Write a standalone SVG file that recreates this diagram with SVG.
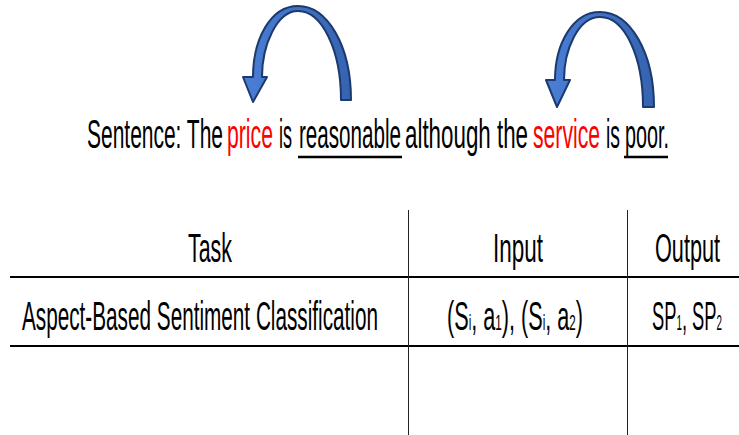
<svg xmlns="http://www.w3.org/2000/svg" width="739" height="435" viewBox="0 0 739 435">
<defs>
<linearGradient id="ag" x1="0" y1="0" x2="1" y2="0">
<stop offset="0" stop-color="#4a7fd6"/>
<stop offset="1" stop-color="#3563b0"/>
</linearGradient>
</defs>
<style>
.t{font-family:"Liberation Sans",Arial,sans-serif;font-size:41px;fill:#000}
.r{fill:#ff0000}
.arrow{fill:url(#ag);stroke:#1c3a6e;stroke-width:2;stroke-linejoin:round}
.hl{stroke:#000;stroke-width:2.2}
.vl{stroke:#222;stroke-width:1}
.ul{stroke:#000;stroke-width:2.5}
</style>
<rect width="739" height="435" fill="#fff"/>
<g id="arrow1">
<path class="arrow" d="M351,100 C351,45 327,6 298,6 C270,6 253,40 253,77 L243,77 L253,102 L267,77 L262,77 C262,45 277,11 298,11 C322,11 341,50 341,100 Z"/>
</g>
<g id="arrow2">
<path class="arrow" d="M654,107 C654,52 630,12 600,12 C572,12 555,45 555,80 L546,80 L557,107 L570,80 L564,80 C564,50 578,17 600,17 C625,17 643,57 643,107 Z"/>
</g>
<g id="sentence">
<text class="t" x="87" y="148" textLength="136" lengthAdjust="spacingAndGlyphs">Sentence: The</text>
<text class="t r" x="227" y="148" textLength="46" lengthAdjust="spacingAndGlyphs">price</text>
<text class="t" x="279" y="148" textLength="13" lengthAdjust="spacingAndGlyphs">is</text>
<text class="t" x="299" y="148" textLength="102" lengthAdjust="spacingAndGlyphs">reasonable</text>
<text class="t" x="405" y="148" textLength="123" lengthAdjust="spacingAndGlyphs">although the</text>
<text class="t r" x="533" y="148" textLength="67" lengthAdjust="spacingAndGlyphs">service</text>
<text class="t" x="606" y="148" textLength="14" lengthAdjust="spacingAndGlyphs">is</text>
<text class="t" x="625" y="148" textLength="44" lengthAdjust="spacingAndGlyphs">poor.</text>
<line class="ul" x1="298" y1="157" x2="402" y2="157"/>
<line class="ul" x1="624" y1="157" x2="668" y2="157"/>
</g>
<g id="table">
<line class="hl" x1="10" y1="277" x2="739" y2="277"/>
<line class="hl" x1="10" y1="346" x2="739" y2="346"/>
<line class="vl" x1="408.5" y1="210" x2="408.5" y2="435"/>
<line class="vl" x1="627.5" y1="210" x2="627.5" y2="435"/>
</g>
<g id="header">
<text class="t" x="188" y="262" textLength="44" lengthAdjust="spacingAndGlyphs">Task</text>
<text class="t" x="493" y="262" textLength="50" lengthAdjust="spacingAndGlyphs">Input</text>
<text class="t" x="655" y="262" textLength="65" lengthAdjust="spacingAndGlyphs">Output</text>
</g>
<g id="row1">
<text class="t" x="22" y="330" textLength="356" lengthAdjust="spacingAndGlyphs">Aspect-Based Sentiment Classification</text>
<text class="t" x="447" y="330" textLength="136" lengthAdjust="spacingAndGlyphs">(S<tspan font-size="22">i</tspan>, a<tspan font-size="22">1</tspan>), (S<tspan font-size="22">i</tspan>, a<tspan font-size="22">2</tspan>)</text>
<text class="t" x="652" y="330" textLength="70" lengthAdjust="spacingAndGlyphs">SP<tspan font-size="22">1</tspan>, SP<tspan font-size="22">2</tspan></text>
</g>
</svg>
